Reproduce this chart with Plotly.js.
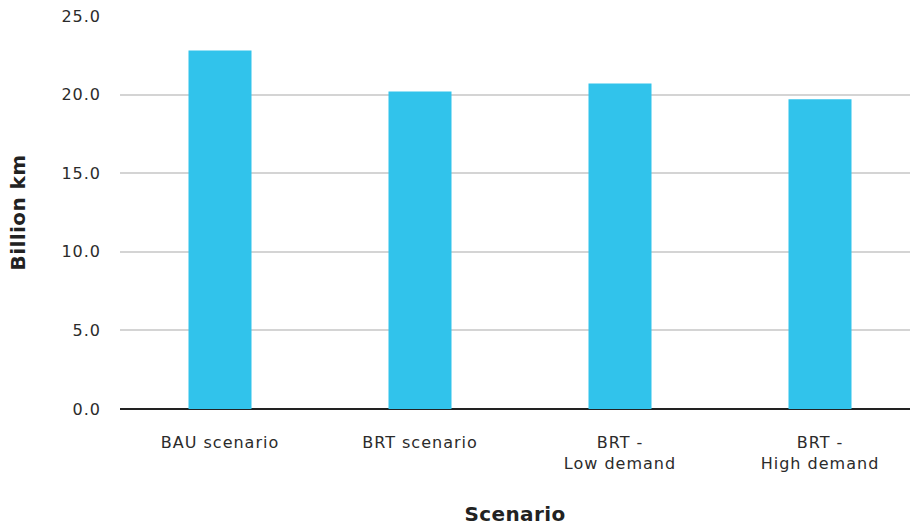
<!DOCTYPE html>
<html>
<head>
<meta charset="utf-8">
<script src="https://cdn.plot.ly/plotly-3.0.1.min.js"></script>
<style>
html,body{margin:0;padding:0;background:#fff;}
#chart{width:910px;height:530px;}
#chart .xtick text, #chart .ytick text {letter-spacing: 1px;}
#chart .g-xtitle text, #chart .g-ytitle text {letter-spacing: 0.4px;}
</style>
</head>
<body>
<div id="chart"></div>
<script>
const categories = ["BAU scenario", "BRT scenario", "BRT -<br>Low demand", "BRT -<br>High demand"];
const values = [22.8, 20.2, 20.7, 19.7];
const yTicks = [0, 5, 10, 15, 20, 25];
const yTickLabels = ["0.0", "5.0", "10.0", "15.0", "20.0", "25.0"];

const trace = {
  type: "bar",
  x: categories,
  y: values,
  width: 0.315,
  marker: {color: "#31C3EB"},
  hoverinfo: "x+y"
};

const layout = {
  width: 910,
  height: 530,
  margin: {l: 120, r: 0, t: 16, b: 121},
  paper_bgcolor: "#ffffff",
  plot_bgcolor: "#ffffff",
  showlegend: false,
  font: {family: "'DejaVu Sans', sans-serif", color: "#2b2b2b", size: 16},
  xaxis: {
    type: "category",
    range: [-0.5, 3.45],
    showgrid: false,
    ticks: "",
    tickfont: {size: 16, color: "#2b2b2b"},
    ticklabelstandoff: 22,
    title: {text: "<b>Scenario</b>", font: {size: 20, color: "#222222"}, standoff: 35},
    showline: false,
    zeroline: false
  },
  yaxis: {
    range: [0, 25],
    tickvals: yTicks,
    ticktext: yTickLabels,
    showgrid: true,
    gridcolor: "#d4d4d4",
    gridwidth: 2,
    zeroline: true,
    zerolinecolor: "#222222",
    zerolinewidth: 2,
    ticks: "",
    tickfont: {size: 16, color: "#2b2b2b"},
    ticklabelstandoff: 18,
    title: {text: "<b>Billion km</b>", font: {size: 20, color: "#222222"}, standoff: 34},
    showline: false
  }
};

Plotly.newPlot("chart", [trace], layout, {displayModeBar: false, staticPlot: true});
</script>
</body>
</html>
